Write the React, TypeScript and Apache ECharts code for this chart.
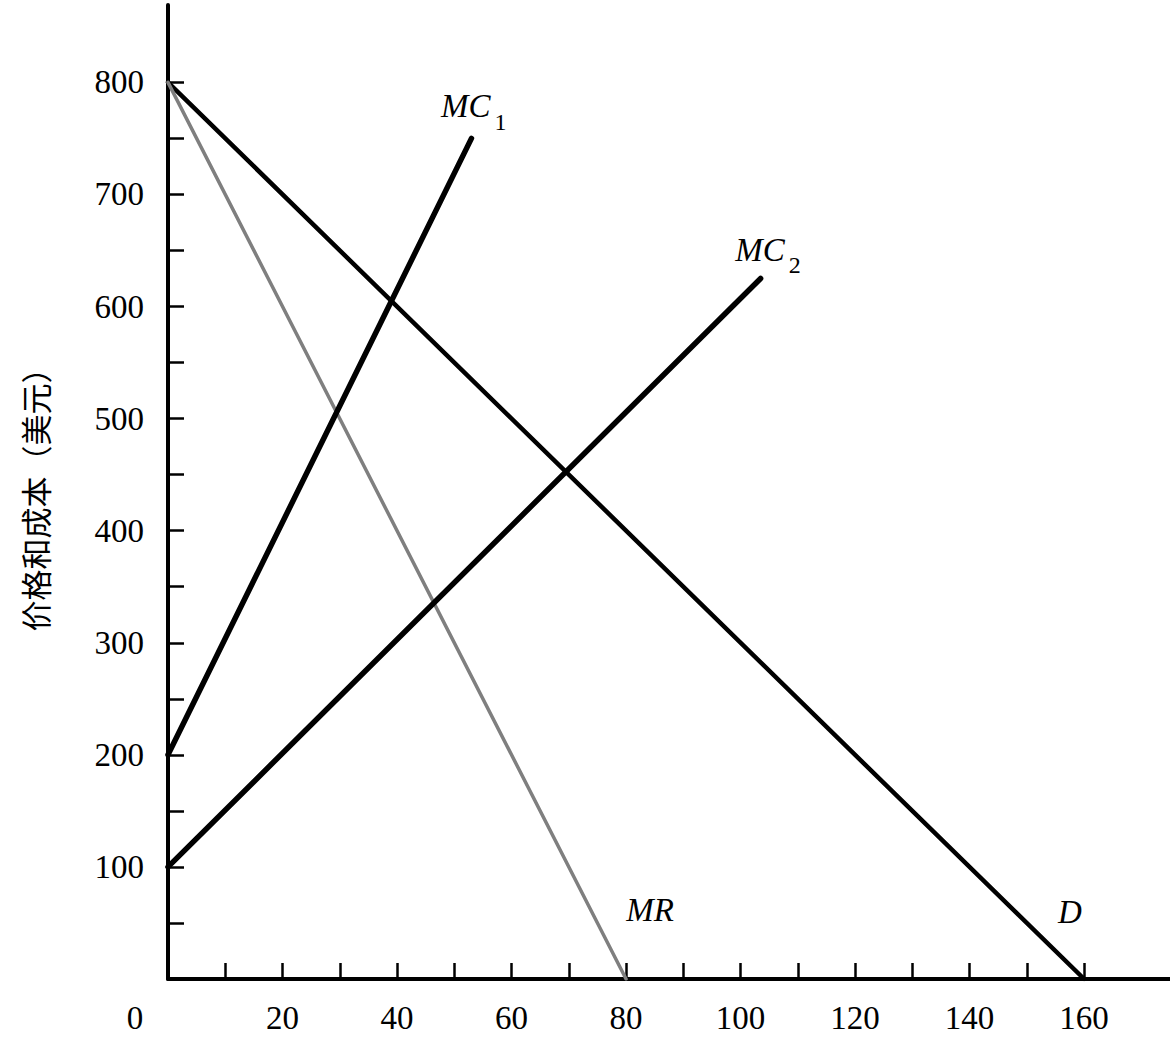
import React, { useEffect, useRef } from "react";
import * as echarts from "echarts";

// Curves (quantity, price/cost)
const demandD: number[][] = [[0, 800], [160, 0]];
const marginalRevenueMR: number[][] = [[0, 800], [80, 0]];
const marginalCost1: number[][] = [[0, 200], [53, 750]];
const marginalCost2: number[][] = [[0, 100], [103.5, 625]];

// Tick values / labels
const xTickValues = [10, 20, 30, 40, 50, 60, 70, 80, 90, 100, 110, 120, 130, 140, 150, 160];
const xLabelValues = [0, 20, 40, 60, 80, 100, 120, 140, 160];
const yTickValues = [50, 100, 150, 200, 250, 300, 350, 400, 450, 500, 550, 600, 650, 700, 750, 800];
const yLabelValues = [100, 200, 300, 400, 500, 600, 700, 800];

// Curve name labels and their anchors in data space
const curveLabelTexts = ["{i|MC}{s|1}", "{i|MC}{s|2}", "{n|MR}", "{n|D}"];
const curveLabelAnchors: number[][] = [[53.4, 765], [104.8, 637], [84.2, 61.5], [157.5, 60]];

const yAxisTitle = "价格和成本（美元）";

export default function App() {
  const ref = useRef<HTMLDivElement>(null);
  useEffect(() => {
    document.body.style.margin = "0";
    const chart = echarts.init(ref.current!, null, { renderer: "svg" });
    const serif = "'Liberation Serif', 'Times New Roman', serif";
    const lineSeries = (name: string, data: number[][], color: string, width: number) => ({
      type: "line",
      name,
      data,
      showSymbol: false,
      symbol: "none",
      lineStyle: { color, width, cap: "round" },
      z: 3,
    });
    chart.setOption({
      animation: false,
      backgroundColor: "#ffffff",
      grid: { left: 168, top: 5, right: 0, bottom: 68, containLabel: false },
      xAxis: {
        type: "value",
        min: 0,
        max: 175,
        splitLine: { show: false },
        axisLine: { show: true, onZero: false, lineStyle: { color: "#000", width: 4 } },
        axisTick: {
          show: true,
          inside: true,
          length: 16,
          customValues: xTickValues,
          lineStyle: { color: "#000", width: 2.5 },
        },
        axisLabel: {
          show: true,
          customValues: xLabelValues,
          margin: 22,
          fontFamily: serif,
          fontSize: 33,
          color: "#000",
          formatter: (v: number) => (v === 0 ? "{z|0}" : String(v)),
          rich: { z: { fontFamily: serif, fontSize: 33, color: "#000", padding: [0, 66, 0, 0] } },
        },
      },
      yAxis: {
        type: "value",
        min: 0,
        max: 869,
        splitLine: { show: false },
        axisLine: { show: true, onZero: false, lineStyle: { color: "#000", width: 4 } },
        axisTick: {
          show: true,
          inside: true,
          length: 16,
          customValues: yTickValues,
          lineStyle: { color: "#000", width: 2.5 },
        },
        axisLabel: {
          show: true,
          customValues: yLabelValues,
          margin: 24,
          fontFamily: serif,
          fontSize: 33,
          color: "#000",
        },
        name: yAxisTitle,
        nameLocation: "middle",
        nameGap: 118,
        nameTextStyle: {
          fontFamily: "'Noto Sans CJK SC', sans-serif",
          fontSize: 31,
          color: "#000",
        },
      },
      series: [
        lineSeries("D", demandD, "#000", 4.5),
        lineSeries("MR", marginalRevenueMR, "#7f7f7f", 3.5),
        lineSeries("MC1", marginalCost1, "#000", 5.5),
        lineSeries("MC2", marginalCost2, "#000", 5.5),
        {
          type: "scatter",
          name: "labels",
          symbolSize: 0,
          silent: true,
          itemStyle: { color: "#000", opacity: 1 },
          data: curveLabelAnchors.map((at, k) => ({
            value: at,
            label: {
              show: true,
              position: "inside",
              color: "#000",
              textBorderWidth: 0,
              formatter: curveLabelTexts[k],
              rich: {
                i: { fontFamily: serif, fontStyle: "italic", fontSize: 33, lineHeight: 33, color: "#000", verticalAlign: "top", textBorderWidth: 0 },
                s: { fontFamily: serif, fontSize: 24, lineHeight: 64, color: "#000", verticalAlign: "middle", padding: [0, 0, 0, 4], textBorderWidth: 0 },
                n: { fontFamily: serif, fontStyle: "italic", fontSize: 33, color: "#000", textBorderWidth: 0 },
              },
            },
          })),
        },
      ],
    });
    return () => chart.dispose();
  }, []);
  return <div ref={ref} style={{ width: 1170, height: 1047 }} />;
}
